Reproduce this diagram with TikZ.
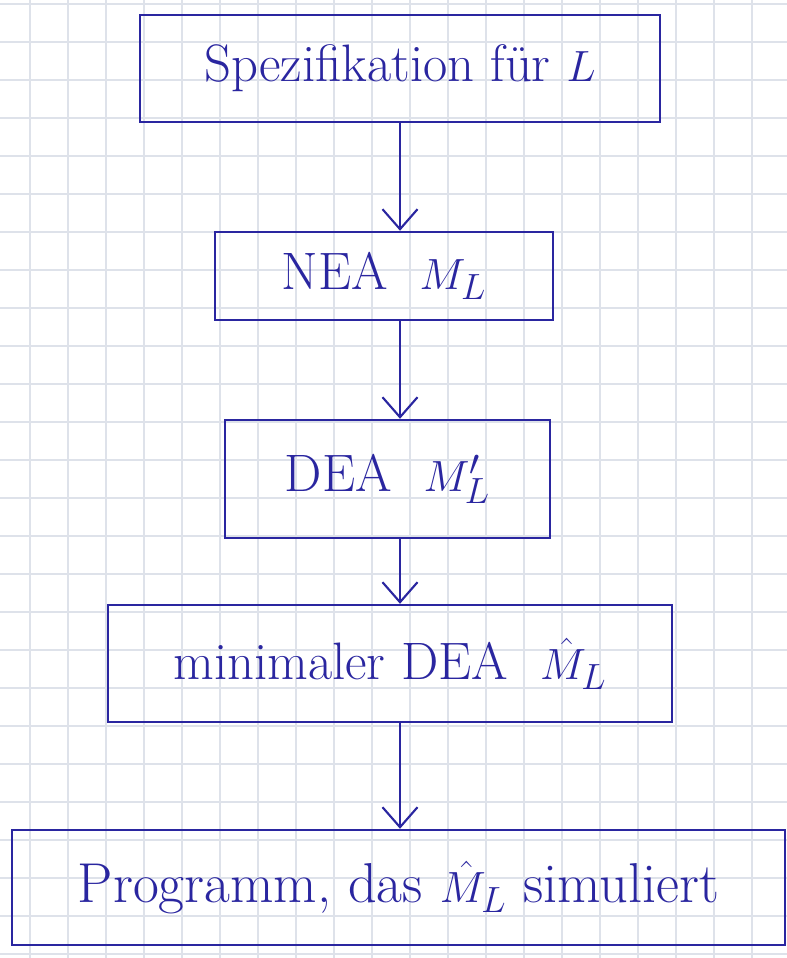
\documentclass[tikz,border=0pt]{standalone}
\usepackage{tikz}
\usetikzlibrary{arrows.meta}

\definecolor{ink}{RGB}{42,38,160}
\definecolor{paper}{RGB}{222,226,234}

\tikzset{
	stepbox/.style={draw=ink, line width=1.4pt, text=ink, inner sep=0pt,
		font=\fontsize{30}{36}\selectfont},
	arr/.style={draw=ink, line width=1.2pt, -{Straight Barb[length=4mm,width=7mm]}}
}

\begin{document}
\begin{tikzpicture}[x=0.02cm, y=-0.02cm]
				\useasboundingbox (0,0) rectangle (787,958);
				\fill[white] (0,0) rectangle (787,958);
				
				% Karopapier
				\foreach \gx in {30,68,...,787} \draw[paper, line width=0.6pt] (\gx,0) -- (\gx,958);
				\foreach \gy in {4,42,...,958} \draw[paper, line width=0.6pt] (0,\gy) -- (787,\gy);
				
				\node[stepbox, minimum width=10.4cm, minimum height=2.14cm] (spez) at (400,68.5) {Spezifikation f\"ur $L$};
				\node[stepbox, minimum width=6.76cm, minimum height=1.76cm] (nea) at (384,276) {NEA\ \ $M_L$};
				\node[stepbox, minimum width=6.5cm, minimum height=2.36cm] (dea) at (387.5,479) {DEA\ \ $M'_L$};
				\node[stepbox, minimum width=11.28cm, minimum height=2.34cm] (mindea) at (390,663.5) {minimaler DEA\ \ $\hat{M}_L$};
				\node[stepbox, minimum width=15.46cm, minimum height=2.3cm, font=\fontsize{32}{38}\selectfont] (prog) at (398.5,887.5) {Programm, das $\hat{M}_L$ simuliert};
				
				\draw[arr] (spez.south) -- (spez.south |- nea.north);
				\draw[arr] (nea.south -| spez.south) -- (dea.north -| spez.south);
				\draw[arr] (dea.south -| spez.south) -- (mindea.north -| spez.south);
				\draw[arr] (mindea.south -| spez.south) -- (prog.north -| spez.south);
\end{tikzpicture}
\end{document}
